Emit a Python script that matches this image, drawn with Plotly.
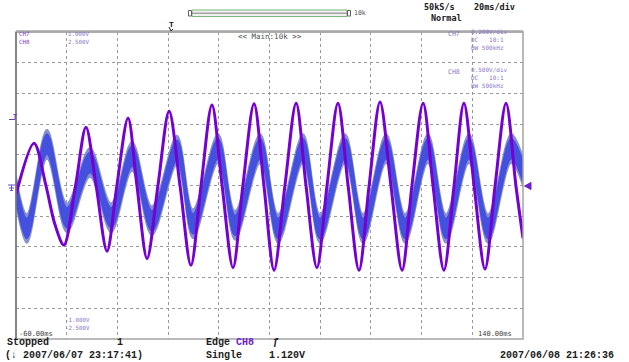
import plotly.graph_objects as go

ch7_vdiv = 0.2      # V/div (blue trace)
ch8_vdiv = 0.5      # V/div (purple trace)
time_range = [-60, 140]   # ms, 20 ms/div
time_ticks = [-60, -40, -20, 0, 20, 40, 60, 80, 100, 120, 140]
div_ticks = [-5, -4, -3, -2, -1, 0, 1, 2, 3, 4, 5]

# CH8 (purple) key points: time (ms) and volts
ch8_t = [-60, -52.9, -48.2, -44.6, -41.1, -36.5, -32.4, -28.4, -24.1, -20.2,
         -15.8, -12.3, -8.3, -4.0, 0.4, 4.7, 9.0, 13.0, 17.3, 21.3,
         25.6, 29.5, 33.9, 37.8, 41.8, 46.1, 50.5, 54.4, 58.7, 62.7,
         67.0, 71.0, 75.3, 79.3, 83.6, 87.9, 92.3, 96.2, 100.6, 104.5,
         108.8, 112.8, 116.7, 120.7, 125.0, 129.0, 133.3, 137.2, 140]
ch8_v = [-0.15, 0.69, 0.0, -0.64, -0.97, 0.0, 0.95, 0.0, -1.07, 0.0,
         1.10, 0.0, -1.19, 0.0, 1.21, 0.0, -1.30, 0.0, 1.31, 0.0,
         -1.34, 0.0, 1.33, 0.0, -1.38, 0.0, 1.34, 0.0, -1.34, 0.0,
         1.34, 0.0, -1.38, 0.0, 1.36, 0.0, -1.38, 0.0, 1.34, 0.0,
         -1.38, 0.0, 1.34, 0.0, -1.36, 0.0, 1.34, 0.0, -0.86]

# CH7 (blue) centre line of the noisy band: time (ms) and volts
ch7_t = [-60, -55.7, -47.8, -39.9, -30.8, -22.5, -14.2, -6.4, 3.5, 9.8,
         19.7, 26.4, 36.3, 43.4, 53.2, 59.9, 69.8, 76.9, 86.0, 93.5,
         102.5, 109.6, 118.7, 126.2, 135.3, 140]
ch7_v = [-0.03, -0.28, 0.27, -0.21, 0.15, -0.21, 0.19, -0.23, 0.23, -0.25,
         0.24, -0.26, 0.24, -0.28, 0.24, -0.28, 0.24, -0.28, 0.24, -0.28,
         0.24, -0.28, 0.24, -0.28, 0.24, 0.09]
ch7_noise_outer = 0.095   # V, half width of the noise band (light fringe)
ch7_noise_inner = 0.065   # V, half width of the dense core

# ---------------- figure ----------------
W, H = 629, 362
L, R, T, B = 16, 523, 32, 339   # plot area in pixels

ch8_y = [v / ch8_vdiv for v in ch8_v]
ch7_c = [v / ch7_vdiv for v in ch7_v]

fig = go.Figure()

def band(half, color):
    lo = [c - half / ch7_vdiv for c in ch7_c]
    hi = [c + half / ch7_vdiv for c in ch7_c]
    fig.add_trace(go.Scatter(x=ch7_t, y=lo, mode="lines",
                             line=dict(color=color, width=1.5, shape="spline", smoothing=1.0),
                             hoverinfo="skip", showlegend=False))
    fig.add_trace(go.Scatter(x=ch7_t, y=hi, mode="lines", fill="tonexty", fillcolor=color,
                             line=dict(color=color, width=1.5, shape="spline", smoothing=1.0),
                             hoverinfo="skip", showlegend=False))

band(ch7_noise_outer, "rgb(135,145,205)")
band(ch7_noise_inner, "rgb(68,80,222)")

fig.add_trace(go.Scatter(x=ch8_t, y=ch8_y, mode="lines",
                         line=dict(color="rgb(118,0,212)", width=3, shape="spline", smoothing=0.9),
                         name="CH8", showlegend=False))

def px(x):
    return (x - L) / (R - L)

def py(y):
    return (B - y) / (B - T)

anns = []
def txt(s, x, y, size, color="#202020", anchor="left", family="DejaVu Sans Mono", bold=False):
    if bold:
        s = "<b>" + s + "</b>"
    anns.append(dict(text=s, x=px(x), y=py(y), xref="paper", yref="paper",
                     xanchor=anchor, yanchor="middle", showarrow=False, align="left",
                     font=dict(size=size, color=color, family=family)))

sp = "\u00a0"
lav = "#8a78c8"
pur = "#7a36c8"
txt("CH7<br>CH8", 17, 37.5, 5.8, pur)
txt("1.000V<br>2.500V", 66, 37.5, 5.8, lav)
txt("-1.000V<br>-2.500V", 63, 323.5, 5.8, lav)
txt("&lt;&lt; Main:10k &gt;&gt;", 236, 36, 7.5, "#505050")
txt("-60.00ms", 17, 334, 7, "#404040")
txt("140.00ms", 514, 334, 7, "#404040", anchor="right")

txt("CH7", 446, 34, 6.5, lav)
txt("0.200V/div<br>DC" + sp * 3 + "10:1<br>BW" + sp + "500kHz", 469, 39.5, 6, lav)
txt("CH8", 446, 72, 6.5, lav)
txt("0.500V/div<br>DC" + sp * 3 + "10:1<br>BW" + sp + "500kHz", 469, 77.5, 6, lav)

txt("50kS/s", 422, 7, 8.5, "#202020", bold=True)
txt("20ms/div", 472, 7, 8.5, "#202020", bold=True)
txt("Normal", 429, 18, 8.5, "#202020", bold=True)
txt("10k", 352, 13, 6.5, "#505050")

mono = "Liberation Mono"
fs = 10
y1, y2 = 342.5, 355.5
txt("Stopped", 5, y1, fs, "#202020", family=mono, bold=True)
txt("1", 115, y1, fs, "#202020", family=mono, bold=True)
txt("Edge", 204, y1, fs, "#202020", family=mono, bold=True)
txt("CH8", 234, y1, fs, "#6a20c8", family=mono, bold=True)
txt("ƒ", 271, y1, fs, "#202020", family=mono, bold=True)
txt("(↓ 2007/06/07 23:17:41)", 3, y2, fs, "#202020", family=mono, bold=True)
txt("Single", 204, y2, fs, "#202020", family=mono, bold=True)
txt("1.120V", 267, y2, fs, "#202020", family=mono, bold=True)
txt("2007/06/08 21:26:36", 498, y2, fs, "#202020", family=mono, bold=True)
txt("T", 167, 25, 8, "#202020", family=mono, bold=True)
txt("T", 11, 117, 7, "#6a40c0", family=mono, bold=True)

shapes = []
def line(x0, y0, x1, y1, color, width=1):
    shapes.append(dict(type="line", xref="paper", yref="paper",
                       x0=px(x0), y0=py(y0), x1=px(x1), y1=py(y1),
                       line=dict(color=color, width=width)))

# frame
shapes.append(dict(type="rect", xref="paper", yref="paper", x0=0, y0=0, x1=1, y1=1,
                   line=dict(color="#a4a4a4", width=1.5), layer="above"))
line(L, T - 0.5, R, T - 0.5, "#a8a8a8", 2.5)
line(L, T, L, B, "#505050", 1)
# top record-length bar
shapes.append(dict(type="rect", xref="paper", yref="paper",
                   x0=px(192), x1=px(347), y0=py(16.5), y1=py(10),
                   line=dict(color="#78b878", width=1), fillcolor="#f0f0f0"))
line(192, 13.2, 347, 13.2, "#808080", 1)
shapes.append(dict(type="rect", xref="paper", yref="paper",
                   x0=px(188.5), x1=px(191.5), y0=py(16), y1=py(10.5),
                   line=dict(color="#606060", width=1), fillcolor="#ffffff"))
shapes.append(dict(type="rect", xref="paper", yref="paper",
                   x0=px(347.5), x1=px(350.5), y0=py(16), y1=py(10.5),
                   line=dict(color="#606060", width=1), fillcolor="#ffffff"))
# trigger arrow under the T
line(169, 27, 171, 31, "#202020", 1)
line(171, 31, 173, 29, "#202020", 1)
# ground marker (left)
line(8, 185, 15, 185, "#6050c0", 1)
line(11.5, 185, 11.5, 190, "#6050c0", 1)
line(9, 188, 14, 188, "#6050c0", 1)
line(10, 190.5, 13, 190.5, "#6050c0", 1)
line(9, 119.5, 15, 119.5, "#6a40c0", 1)
# right-hand CH8 marker
shapes.append(dict(type="path", xref="paper", yref="paper",
                   path="M %f %f L %f %f L %f %f Z" % (px(524.5), py(186), px(531), py(182.5), px(531), py(189.5)),
                   fillcolor="#7020c8", line=dict(color="#7020c8", width=1)))

fig.update_layout(
    width=W, height=H, autosize=False,
    margin=dict(l=L, r=W - R, t=T, b=H - B, pad=0),
    paper_bgcolor="white", plot_bgcolor="white",
    xaxis=dict(range=time_range, tickvals=time_ticks, showticklabels=False,
               showgrid=True, gridcolor="#9a9a9a", griddash="dot", gridwidth=1,
               zeroline=False, showline=False, ticks=""),
    yaxis=dict(range=[div_ticks[0], div_ticks[-1]], tickvals=div_ticks, showticklabels=False,
               showgrid=True, gridcolor="#9a9a9a", griddash="dot", gridwidth=1,
               zeroline=False, showline=False, ticks=""),
    annotations=anns, shapes=shapes, showlegend=False,
)

fig.write_html("out.html", config={"displayModeBar": False},
               post_script="document.body.style.margin='0px';document.body.style.overflow='hidden';")
